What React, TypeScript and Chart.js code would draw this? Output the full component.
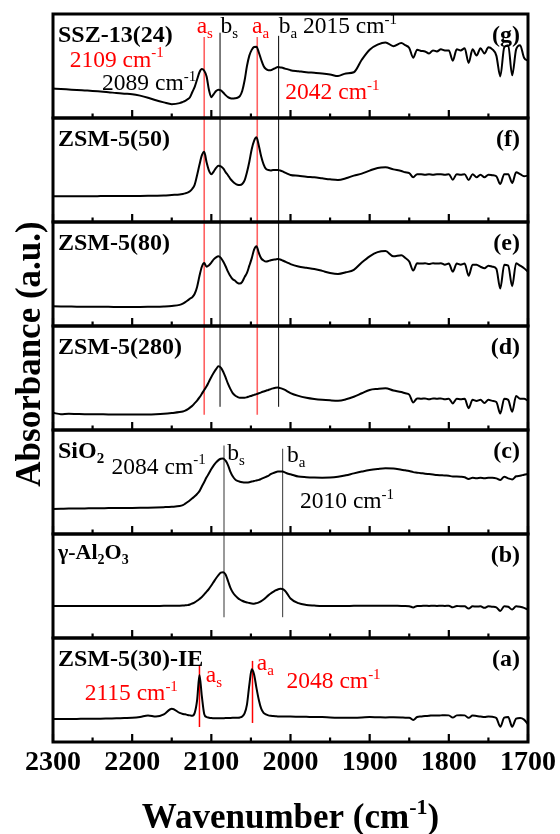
import React, { useEffect, useRef } from "react";
import { Chart, registerables } from "chart.js";

Chart.register(...registerables);

// ---- data ---------------------------------------------------------------
const WAVENUMBERS = [
  2300, 2290, 2280, 2270, 2260, 2250, 2240, 2230, 2220, 2210, 2200, 2190, 2180, 2170, 2160, 2150, 2140,
  2136, 2133, 2130, 2127, 2124, 2121, 2118, 2115, 2112, 2109, 2106, 2103, 2100, 2097, 2094, 2091, 2088,
  2085, 2082, 2079, 2076, 2073, 2070, 2067, 2064, 2061, 2058, 2055, 2052, 2049, 2046, 2043, 2040, 2037,
  2034, 2031, 2028, 2025, 2022, 2019, 2016, 2013, 2010, 2007, 2004,
  2000, 1990, 1980, 1970, 1960, 1950, 1940, 1930, 1920, 1910, 1900, 1890, 1880, 1870, 1860,
  1855, 1850, 1845, 1840, 1835, 1830, 1825, 1820, 1815, 1810, 1805, 1800, 1795, 1790, 1785, 1780, 1775,
  1770, 1765, 1760, 1755, 1750, 1745, 1740, 1735, 1730, 1725, 1720, 1715, 1710, 1705, 1700,
];

// (g) SSZ-13(24)
const SERIES_G = [
  28.3, 27.8, 27.4, 27.0, 26.5, 26.0, 25.4, 24.8, 24.0, 23.4, 22.9, 21.5, 19.5, 17.0, 15.0, 13.3, 14.3,
  15.5, 16.5, 18.0, 20.0, 25.0, 30.0, 37.0, 44.0, 47.0, 45.5, 40.0, 27.0, 20.0, 23.0, 26.0, 27.2, 26.5,
  24.5, 22.0, 20.0, 19.0, 18.8, 19.0, 19.5, 21.0, 26.0, 36.0, 50.0, 60.0, 65.5, 68.3, 68.6, 63.0, 56.0,
  50.0, 47.0, 46.0, 46.0, 47.0, 48.0, 49.0, 48.6, 48.3, 47.5, 47.0,
  46.0, 45.0, 44.0, 43.5, 42.9, 41.9, 40.3, 42.9, 44.0, 56.0, 65.7, 70.5, 72.7, 69.0, 72.0,
  70.0, 67.3, 58.0, 65.7, 64.5, 64.0, 62.0, 65.0, 64.0, 66.0, 65.0, 65.0, 55.0, 66.0, 65.0, 67.0, 53.0,
  66.0, 60.0, 67.0, 62.0, 68.0, 66.0, 60.0, 40.0, 68.0, 70.0, 41.0, 66.0, 70.0, 58.0, 55.0,
];

// (f) ZSM-5(50)
const SERIES_F = [
  24.7, 24.7, 24.8, 24.8, 24.7, 24.7, 24.9, 25.0, 24.9, 25.0, 25.0, 25.1, 25.2, 25.3, 25.5, 26.0, 26.5,
  27.0, 27.5, 28.2, 29.5, 32.0, 36.0, 45.0, 55.0, 64.0, 67.5, 57.4, 49.4, 46.0, 48.5, 52.0, 54.0, 53.5,
  51.5, 48.0, 45.0, 41.5, 39.0, 37.0, 35.8, 35.6, 36.5, 40.0, 47.8, 58.0, 70.0, 78.0, 81.4, 73.4, 63.0,
  55.5, 51.0, 50.0, 49.6, 50.0, 50.0, 50.0, 49.5, 48.7, 47.5, 46.5,
  45.2, 44.5, 43.6, 43.0, 42.0, 41.0, 40.4, 42.0, 44.6, 46.5, 49.4, 52.0, 52.6, 50.6, 49.0,
  47.8, 47.1, 43.0, 46.0, 46.0, 45.5, 46.0, 45.5, 46.0, 46.0, 45.5, 46.0, 40.7, 46.0, 45.5, 46.0, 40.4,
  46.0, 43.0, 45.5, 43.0, 45.5, 45.0, 44.0, 36.5, 46.0, 46.0, 37.5, 47.8, 46.0, 44.0, 44.6,
];

// (e) ZSM-5(80)
const SERIES_E = [
  18.9, 18.8, 18.7, 18.6, 18.6, 18.5, 18.4, 18.4, 18.3, 18.2, 18.2, 18.3, 18.4, 18.5, 18.8, 19.3, 20.3,
  21.5, 22.9, 24.5, 26.2, 27.8, 31.0, 37.6, 48.0, 57.0, 60.5, 57.0, 58.5, 61.0, 64.0, 66.0, 67.0, 65.5,
  62.0, 57.5, 52.3, 48.0, 45.0, 43.5, 41.5, 40.8, 42.5, 47.0, 51.0, 58.0, 65.0, 73.5, 76.8, 70.3, 65.0,
  63.0, 62.0, 62.5, 63.2, 63.7, 64.0, 64.4, 64.0, 63.0, 62.0, 61.0,
  59.5, 57.2, 56.0, 54.9, 53.0, 51.0, 50.0, 51.6, 54.0, 61.0, 67.0, 71.0, 72.0, 67.0, 68.0,
  65.4, 62.0, 53.3, 60.4, 60.0, 60.4, 59.5, 60.4, 60.0, 60.4, 59.0, 60.0, 52.3, 60.0, 59.0, 60.0, 48.4,
  59.0, 58.8, 57.0, 55.6, 58.0, 57.0, 55.0, 36.0, 58.8, 58.0, 38.2, 60.4, 58.0, 55.6, 52.3,
];

// (d) ZSM-5(280)
const SERIES_D = [
  16.5, 15.2, 15.6, 15.4, 15.2, 15.2, 15.1, 15.0, 15.0, 14.9, 14.9, 15.0, 15.0, 15.2, 15.6, 16.3, 17.2,
  17.8, 18.6, 19.8, 21.5, 23.3, 25.8, 28.3, 31.3, 34.8, 38.5, 42.0, 46.5, 51.0, 55.0, 58.5, 61.2, 60.0,
  56.0, 50.5, 44.5, 39.5, 35.5, 33.2, 31.8, 31.0, 31.0, 31.0, 31.5, 32.3, 33.0, 33.8, 34.5, 35.3, 36.2,
  37.0, 37.8, 38.5, 39.3, 40.0, 40.6, 40.8, 40.3, 39.5, 38.5, 37.2,
  35.5, 32.8, 31.0, 29.8, 29.0, 28.5, 28.2, 29.5, 32.0, 35.3, 38.5, 39.5, 40.1, 38.0, 36.5,
  35.3, 34.0, 26.5, 30.4, 30.0, 30.4, 29.5, 30.4, 30.0, 30.4, 29.5, 30.0, 25.6, 30.0, 29.5, 30.0, 21.0,
  29.0, 28.0, 29.0, 26.0, 29.0, 28.0, 27.0, 15.9, 30.0, 29.0, 17.5, 32.7, 30.0, 30.0, 28.0,
];

// (c) SiO2
const SERIES_C = [
  24.0, 24.2, 24.4, 24.5, 24.6, 24.7, 24.8, 24.9, 25.0, 25.0, 25.1, 25.2, 25.3, 25.5, 25.8, 26.2, 26.9,
  27.8, 29.2, 30.8, 32.5, 34.3, 36.2, 38.5, 41.2, 45.7, 50.0, 54.5, 58.4, 62.5, 66.0, 68.8, 71.0, 72.3,
  72.7, 70.5, 66.3, 60.0, 55.5, 52.5, 51.0, 50.3, 49.8, 49.5, 49.5, 49.8, 50.4, 51.0, 51.5, 52.0, 53.0,
  54.0, 55.0, 56.0, 57.5, 58.6, 59.4, 60.0, 60.0, 60.0, 59.2, 58.2,
  57.5, 55.2, 54.6, 54.3, 54.2, 54.3, 55.0, 56.5, 58.3, 60.0, 61.5, 62.5, 63.2, 63.0, 61.8,
  61.2, 60.5, 59.5, 59.0, 58.5, 58.0, 57.6, 57.2, 56.8, 56.5, 56.2, 56.0, 55.2, 55.2, 55.0, 54.5, 53.0,
  54.0, 53.5, 54.0, 53.5, 54.0, 54.0, 53.5, 52.0, 55.0, 53.5, 52.5, 55.5, 56.0, 57.0, 57.8,
];

// (b) gamma-Al2O3
const SERIES_B = [
  30.8, 30.8, 30.8, 30.8, 30.8, 30.8, 30.8, 30.8, 30.8, 30.8, 30.8, 30.8, 30.8, 30.8, 30.9, 30.9, 31.0,
  31.2, 31.4, 31.6, 32.2, 33.2, 34.3, 35.8, 37.5, 39.4, 42.0, 44.5, 47.3, 50.5, 54.0, 57.5, 60.5, 62.8,
  63.2, 61.0, 55.0, 48.5, 44.0, 41.0, 38.8, 37.0, 35.8, 34.8, 34.2, 33.6, 33.2, 33.0, 33.5, 34.3, 35.5,
  37.0, 39.0, 41.0, 42.8, 44.3, 45.7, 46.7, 47.3, 47.1, 45.5, 42.5,
  38.0, 33.5, 31.8, 31.2, 30.8, 30.8, 30.8, 30.8, 30.9, 30.9, 31.0, 31.0, 31.0, 31.0, 30.8,
  30.8, 30.6, 29.4, 30.8, 30.8, 31.0, 30.8, 31.0, 30.8, 31.0, 30.8, 31.0, 29.5, 30.8, 30.5, 30.5, 28.3,
  30.5, 30.2, 30.5, 29.0, 30.5, 30.0, 29.5, 26.0, 30.5, 30.0, 27.3, 30.5, 30.0, 29.0, 27.3,
];

// (a) ZSM-5(30)-IE
const SERIES_A = [
  22.1, 22.1, 22.2, 22.2, 22.3, 22.3, 22.4, 22.6, 22.8, 23.0, 23.2, 24.0, 25.5, 24.5, 26.5, 32.0, 28.0,
  27.0, 26.6, 26.0, 25.6, 25.3, 28.0, 40.0, 64.4, 44.0, 27.0, 24.0, 23.4, 23.0, 22.9, 22.8, 22.8, 22.8,
  22.9, 23.0, 23.0, 23.1, 23.2, 23.3, 23.4, 23.6, 24.5, 27.5, 36.0, 55.0, 69.9, 65.0, 52.0, 40.4, 32.0,
  28.0, 26.5, 25.6, 25.2, 25.0, 24.8, 24.6, 24.5, 24.4, 24.4, 24.4,
  24.4, 24.3, 24.2, 24.0, 24.0, 23.6, 23.4, 23.4, 23.4, 23.6, 24.0, 23.8, 23.6, 23.8, 23.6,
  23.4, 23.4, 21.2, 24.0, 24.5, 25.0, 25.2, 25.6, 25.4, 25.6, 25.8, 25.6, 23.5, 25.6, 25.8, 25.6, 23.2,
  25.4, 25.0, 24.6, 24.0, 24.6, 24.2, 23.0, 14.7, 23.4, 24.0, 14.7, 22.4, 23.0, 21.5, 17.0,
];

const X_MIN = 1700;
const X_MAX = 2300;
const X_STEP = 100;

// panels listed top to bottom
const PANEL_KEYS = ["g", "f", "e", "d", "c", "b", "a"];
const PANEL_SERIES = [SERIES_G, SERIES_F, SERIES_E, SERIES_D, SERIES_C, SERIES_B, SERIES_A];

type Seg = { t: string; s?: "sup" | "sub" };

const PANEL_NAMES: Seg[][] = [
  [{ t: "SSZ-13(24)" }],
  [{ t: "ZSM-5(50)" }],
  [{ t: "ZSM-5(80)" }],
  [{ t: "ZSM-5(280)" }],
  [{ t: "SiO" }, { t: "2", s: "sub" }],
  [{ t: "γ-Al" }, { t: "2", s: "sub" }, { t: "O" }, { t: "3", s: "sub" }],
  [{ t: "ZSM-5(30)-IE" }],
];

// peak positions (cm-1)
const PEAK_AS_ZEO = 2109;
const PEAK_AA_ZEO = 2042;
const PEAK_BS_ZEO = 2089;
const PEAK_BA_ZEO = 2015;
const PEAK_BS_OX = 2084;
const PEAK_BA_OX = 2010;
const PEAK_AS_IE = 2115;
const PEAK_AA_IE = 2048;

// ---- styling ------------------------------------------------------------
const FONT = "'Liberation Serif', 'Times New Roman', 'DejaVu Serif', serif";
const RED = "#ff0000";
const BLACK = "#000000";

const cm = (n: number): Seg[] => [{ t: `${n} cm` }, { t: "-1", s: "sup" }];

const ANNOTATIONS: { panel: string; wn: number; v: number; color: string; segs: Seg[] }[] = [
  { panel: "g", wn: 2279, v: 49.5, color: RED, segs: cm(PEAK_AS_ZEO) },
  { panel: "g", wn: 2238, v: 27, color: BLACK, segs: cm(PEAK_BS_ZEO) },
  { panel: "g", wn: 2118.5, v: 81.6, color: RED, segs: [{ t: "a" }, { t: "s", s: "sub" }] },
  { panel: "g", wn: 2088.5, v: 81.6, color: BLACK, segs: [{ t: "b" }, { t: "s", s: "sub" }] },
  { panel: "g", wn: 2048.5, v: 81.6, color: RED, segs: [{ t: "a" }, { t: "a", s: "sub" }] },
  { panel: "g", wn: 2015, v: 81.6, color: BLACK, segs: [{ t: "b" }, { t: "a", s: "sub" }, { t: ` ${PEAK_BA_ZEO} cm` }, { t: "-1", s: "sup" }] },
  { panel: "g", wn: 2006.5, v: 18, color: RED, segs: cm(PEAK_AA_ZEO) },
  { panel: "c", wn: 2226, v: 58, color: BLACK, segs: cm(PEAK_BS_OX) },
  { panel: "c", wn: 2080, v: 71.5, color: BLACK, segs: [{ t: "b" }, { t: "s", s: "sub" }] },
  { panel: "c", wn: 2004.5, v: 69.5, color: BLACK, segs: [{ t: "b" }, { t: "a", s: "sub" }] },
  { panel: "c", wn: 1988, v: 25, color: BLACK, segs: cm(PEAK_BA_OX) },
  { panel: "a", wn: 2260, v: 40.4, color: RED, segs: cm(PEAK_AS_IE) },
  { panel: "a", wn: 2107, v: 58, color: RED, segs: [{ t: "a" }, { t: "s", s: "sub" }] },
  { panel: "a", wn: 2042.5, v: 69.2, color: RED, segs: [{ t: "a" }, { t: "a", s: "sub" }] },
  { panel: "a", wn: 2005, v: 52, color: RED, segs: cm(PEAK_AA_IE) },
];

const MARKERS = [
  { wn: PEAK_AS_ZEO, from: ["g", 78], to: ["d", 14.6], color: "rgba(255,30,30,0.7)", width: 1.6 },
  { wn: PEAK_AA_ZEO, from: ["g", 78], to: ["d", 14.6], color: "rgba(255,30,30,0.7)", width: 1.6 },
  { wn: PEAK_BS_ZEO, from: ["g", 82], to: ["d", 22.3], color: BLACK, width: 1 },
  { wn: PEAK_BA_ZEO, from: ["g", 79], to: ["d", 22.3], color: BLACK, width: 1 },
  { wn: PEAK_BS_OX, from: ["c", 85], to: ["b", 20], color: "#555555", width: 1.2 },
  { wn: PEAK_BA_OX, from: ["c", 82], to: ["b", 20], color: "#555555", width: 1.2 },
  { wn: PEAK_AS_IE, from: ["a", 74], to: ["a", 14.4], color: RED, width: 1.5 },
  { wn: PEAK_AA_IE, from: ["a", 78], to: ["a", 18.3], color: RED, width: 1.5 },
] as { wn: number; from: [string, number]; to: [string, number]; color: string; width: number }[];

function drawRich(
  ctx: CanvasRenderingContext2D,
  segs: Seg[],
  x: number,
  y: number,
  size: number,
  weight: string,
  color: string,
  align: "left" | "center" | "right" = "left"
) {
  const fontFor = (sg: Seg) => `${weight} ${sg.s ? Math.round(size * 0.64) : size}px ${FONT}`;
  let total = 0;
  for (const sg of segs) {
    ctx.font = fontFor(sg);
    total += ctx.measureText(sg.t).width;
  }
  let cx = align === "left" ? x : align === "right" ? x - total : x - total / 2;
  ctx.fillStyle = color;
  ctx.textAlign = "left";
  ctx.textBaseline = "alphabetic";
  for (const sg of segs) {
    ctx.font = fontFor(sg);
    const dy = sg.s === "sup" ? -size * 0.4 : sg.s === "sub" ? size * 0.22 : 0;
    ctx.fillText(sg.t, cx, y + dy);
    cx += ctx.measureText(sg.t).width;
  }
}

const panelPlugin = {
  id: "panelDecor",
  beforeDatasetsDraw(chart: any) {
    const ctx = chart.ctx as CanvasRenderingContext2D;
    const xs = chart.scales.x;
    ctx.save();
    for (const m of MARKERS) {
      const x = xs.getPixelForValue(m.wn);
      const y1 = chart.scales["y" + m.from[0]].getPixelForValue(m.from[1]);
      const y2 = chart.scales["y" + m.to[0]].getPixelForValue(m.to[1]);
      ctx.beginPath();
      ctx.strokeStyle = m.color;
      ctx.lineWidth = m.width;
      ctx.moveTo(x, y1);
      ctx.lineTo(x, y2);
      ctx.stroke();
    }
    ctx.restore();
  },
  afterDatasetsDraw(chart: any) {
    const ctx = chart.ctx as CanvasRenderingContext2D;
    const area = chart.chartArea;
    const xs = chart.scales.x;
    const majors: number[] = xs.ticks.map((t: any) => t.value);
    const minors: number[] = [];
    for (let i = 0; i < majors.length - 1; i++) minors.push((majors[i] + majors[i + 1]) / 2);
    ctx.save();
    PANEL_KEYS.forEach((k, i) => {
      const ys = chart.scales["y" + k];
      // frame
      ctx.strokeStyle = BLACK;
      ctx.lineWidth = 3;
      ctx.strokeRect(area.left, ys.top, area.right - area.left, ys.bottom - ys.top);
      // inward ticks at the panel bottom
      ctx.lineWidth = 2.2;
      ctx.beginPath();
      for (const v of majors) {
        const x = xs.getPixelForValue(v);
        ctx.moveTo(x, ys.bottom);
        ctx.lineTo(x, ys.bottom - 8);
      }
      for (const v of minors) {
        const x = xs.getPixelForValue(v);
        ctx.moveTo(x, ys.bottom);
        ctx.lineTo(x, ys.bottom - 4.5);
      }
      ctx.stroke();
      // labels
      const base = ys.top + 28;
      const nameSize = k === "b" ? 22 : 24;
      drawRich(ctx, PANEL_NAMES[i], area.left + 5, k === "b" ? ys.top + 25 : base, nameSize, "bold", BLACK, "left");
      drawRich(ctx, [{ t: `(${k})` }], area.right - 8, base, 24, "bold", BLACK, "right");
    });
    for (const a of ANNOTATIONS) {
      const ys = chart.scales["y" + a.panel];
      drawRich(ctx, a.segs, xs.getPixelForValue(a.wn), ys.getPixelForValue(a.v), 23.5, "normal", a.color, "left");
    }
    // axis titles
    const cx = (area.left + area.right) / 2;
    drawRich(ctx, [{ t: "Wavenumber (cm" }, { t: "-1", s: "sup" }, { t: ")" }], cx, 828, 35, "bold", BLACK, "center");
    ctx.save();
    ctx.translate(28, (area.top + area.bottom) / 2 - 24);
    ctx.rotate(-Math.PI / 2);
    drawRich(ctx, [{ t: "Absorbance (a.u.)" }], 0, 12, 35, "bold", BLACK, "center");
    ctx.restore();
    ctx.restore();
  },
};

export default function App() {
  const ref = useRef<HTMLCanvasElement | null>(null);

  useEffect(() => {
    if (!ref.current) return;
    const scales: any = {
      x: {
        type: "linear",
        position: "bottom",
        min: X_MIN,
        max: X_MAX,
        reverse: true,
        grid: { display: false, drawTicks: false },
        border: { display: false },
        ticks: {
          stepSize: X_STEP,
          padding: 4,
          color: BLACK,
          font: { family: FONT, size: 28, weight: "bold" },
          maxRotation: 0,
          autoSkip: false,
          callback: (v: any) => String(v),
        },
        afterFit: (s: any) => {
          s.height = 92;
        },
      },
    };
    // stacked axes are placed bottom-up, so register the bottom panel first
    [...PANEL_KEYS].reverse().forEach((k) => {
      scales["y" + k] = {
        type: "linear",
        position: "left",
        stack: "panels",
        stackWeight: 1,
        min: 0,
        max: 100,
        grid: { display: false, drawTicks: false },
        border: { display: false },
        ticks: { display: false },
        afterFit: (s: any) => {
          s.width = 0;
        },
      };
    });

    const chart = new Chart(ref.current, {
      type: "line",
      data: {
        datasets: PANEL_KEYS.map((k, i) => ({
          label: k,
          yAxisID: "y" + k,
          data: WAVENUMBERS.map((w, j) => ({ x: w, y: PANEL_SERIES[i][j] })),
          borderColor: BLACK,
          borderWidth: 2,
          pointRadius: 0,
          fill: false,
          cubicInterpolationMode: "monotone",
        })),
      },
      options: {
        responsive: false,
        animation: false,
        devicePixelRatio: 1,
        layout: { padding: { left: 53, right: 29, top: 14, bottom: 0 } },
        plugins: {
          legend: { display: false },
          tooltip: { enabled: false },
          title: { display: false },
        },
        scales,
      } as any,
      plugins: [panelPlugin],
    });
    return () => chart.destroy();
  }, []);

  return (
    <div style={{ position: "absolute", left: 0, top: 0, width: 560, height: 834, background: "#fff" }}>
      <canvas ref={ref} width={560} height={834} style={{ display: "block", width: 560, height: 834 }} />
    </div>
  );
}
